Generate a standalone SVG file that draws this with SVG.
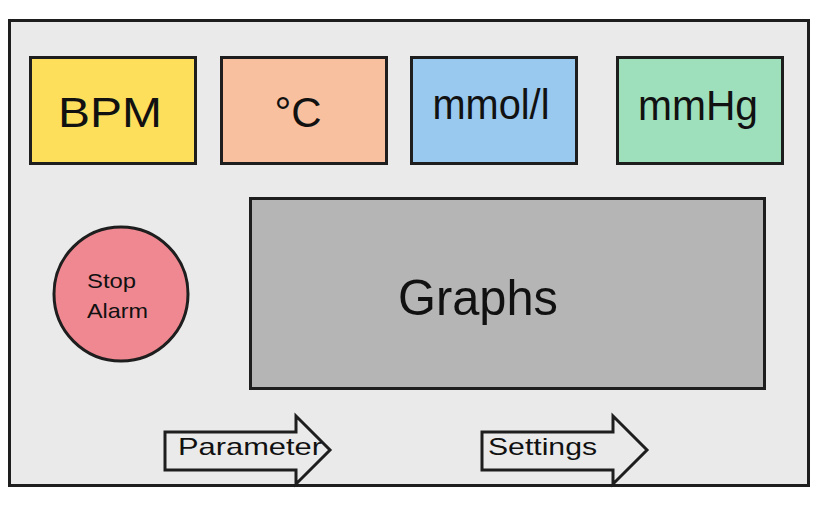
<svg xmlns="http://www.w3.org/2000/svg" width="828" height="507" viewBox="0 0 828 507">
  <style>
    .box { stroke: #1e1e1e; stroke-width: 3; stroke-linejoin: miter; }
    .lbl { font-family: "Liberation Sans", "DejaVu Sans", sans-serif; fill: #111; }
    .big { font-size: 42px; }
  </style>
  <rect x="0" y="0" width="828" height="507" fill="#ffffff"/>
  <g id="frame">
    <rect class="box" x="9.5" y="20.5" width="799" height="465" fill="#eaeaea"/>
  </g>
  <g id="bpm">
    <rect class="box" x="30.5" y="57.5" width="165" height="106" fill="#fddf5b"/>
    <text class="lbl big" x="110" y="127" text-anchor="middle" textLength="104" lengthAdjust="spacingAndGlyphs">BPM</text>
  </g>
  <g id="celsius">
    <rect class="box" x="221.5" y="57.5" width="165" height="106" fill="#f9c09f"/>
    <text class="lbl big" x="298" y="127" text-anchor="middle">°C</text>
  </g>
  <g id="mmol">
    <rect class="box" x="411.5" y="57.5" width="165" height="106" fill="#99c9ef"/>
    <text class="lbl big" x="491" y="119" text-anchor="middle" textLength="117" lengthAdjust="spacingAndGlyphs">mmol/l</text>
  </g>
  <g id="mmhg">
    <rect class="box" x="617.5" y="57.5" width="165" height="106" fill="#9ee0bc"/>
    <text class="lbl big" x="698" y="120" text-anchor="middle" textLength="120" lengthAdjust="spacingAndGlyphs">mmHg</text>
  </g>
  <g id="graphs">
    <rect class="box" x="250.5" y="198.5" width="514" height="190" fill="#b5b5b5"/>
    <text class="lbl" x="478" y="315" font-size="50" text-anchor="middle" textLength="160" lengthAdjust="spacingAndGlyphs">Graphs</text>
  </g>
  <g id="stop-alarm">
    <circle class="box" cx="121" cy="294" r="67" fill="#f08891"/>
    <text class="lbl" x="87" y="288" font-size="21" textLength="49" lengthAdjust="spacingAndGlyphs">Stop</text>
    <text class="lbl" x="87" y="318" font-size="21" textLength="61" lengthAdjust="spacingAndGlyphs">Alarm</text>
  </g>
  <g id="parameter">
    <polygon class="box" points="165,432 296,432 296,416 330,450 296,484 296,470 165,470" fill="#eaeaea"/>
    <text class="lbl" x="178" y="455" font-size="24" textLength="144" lengthAdjust="spacingAndGlyphs">Parameter</text>
  </g>
  <g id="settings">
    <polygon class="box" points="482,432 613,432 613,416 647,450 613,484 613,470 482,470" fill="#eaeaea"/>
    <text class="lbl" x="488" y="455" font-size="24" textLength="109" lengthAdjust="spacingAndGlyphs">Settings</text>
  </g>
  <g id="connectors"></g>
</svg>
